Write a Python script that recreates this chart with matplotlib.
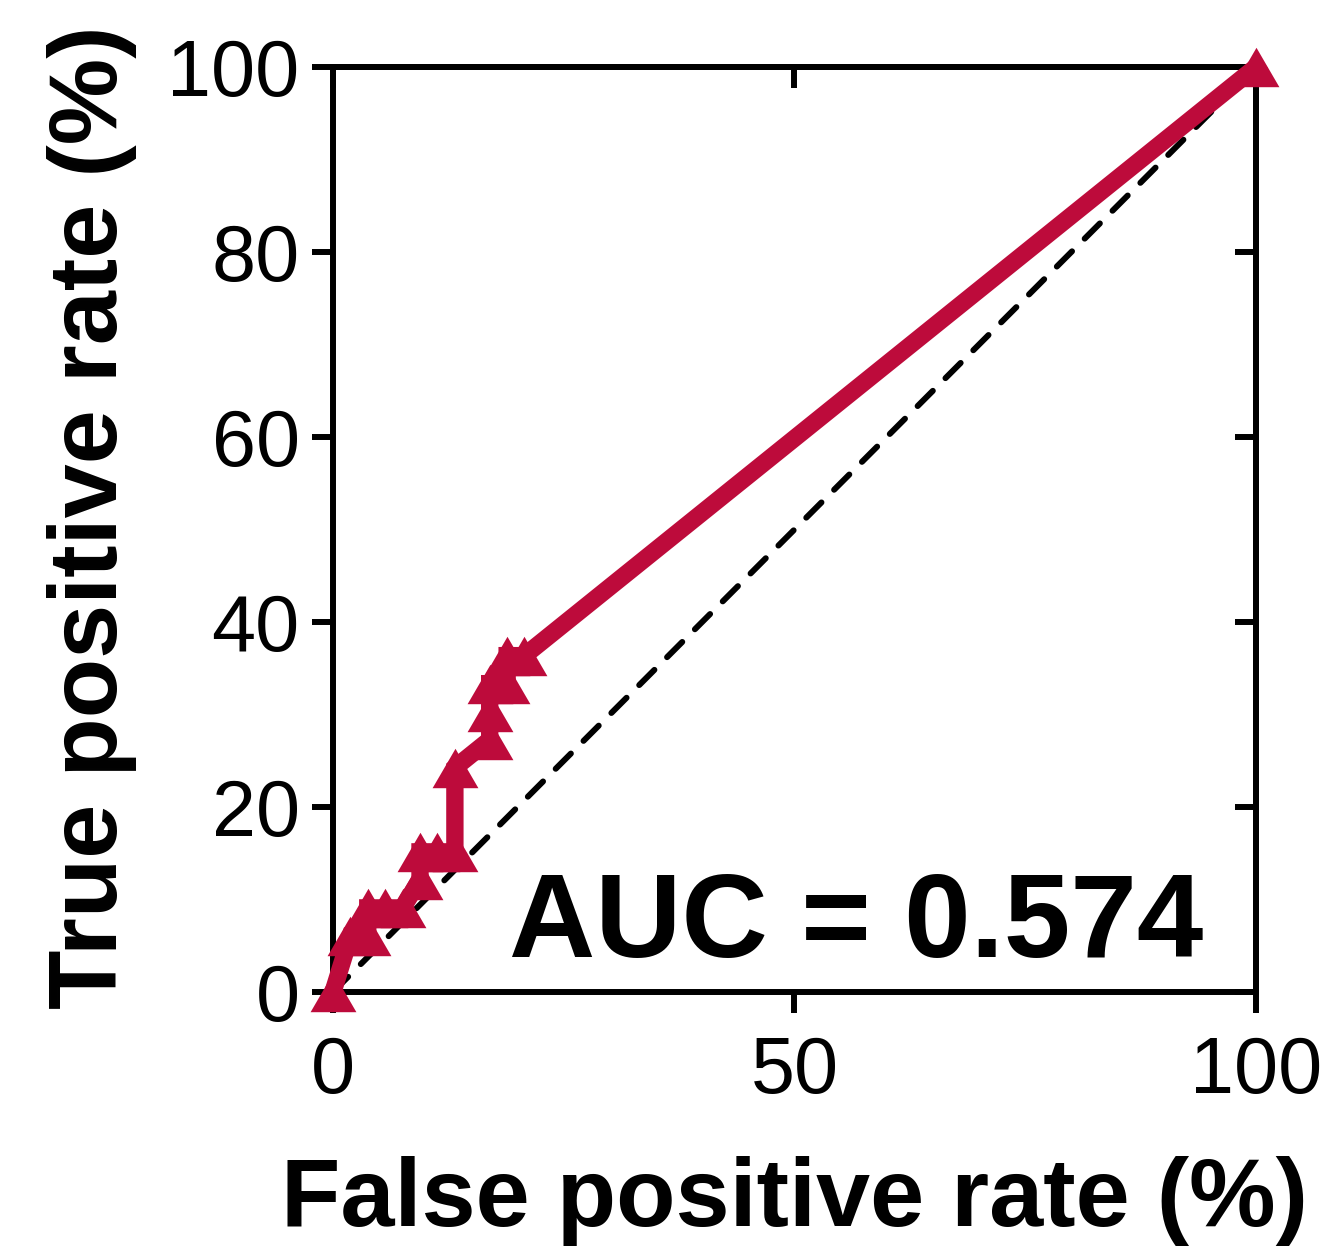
import matplotlib
matplotlib.use("Agg")
import matplotlib.pyplot as plt
from matplotlib.path import Path

plt.rcParams["font.family"] = ["Liberation Sans", "DejaVu Sans"]

# ROC operating points (percent)
fpr = [0, 1.89, 3.77, 3.77, 5.66, 7.55, 9.43, 9.43, 11.32, 13.21, 13.21,
       16.98, 16.98, 16.98, 18.87, 18.87, 20.75, 100]
tpr = [0, 6.06, 6.06, 9.09, 9.09, 9.09, 12.12, 15.15, 15.15, 15.15, 24.24,
       27.27, 30.30, 33.33, 33.33, 36.36, 36.36, 100]
auc_text = "AUC = 0.574"
ticks_x = [0, 50, 100]
ticks_y = [0, 20, 40, 60, 80, 100]

RED = "#BD0B3B"
SPINE_W = 4.3
TICK_L = 15

# flattened triangle, a bit wider than tall
tri = Path([(-0.5, -0.43), (0.5, -0.43), (0.0, 0.43), (-0.5, -0.43)],
           [Path.MOVETO, Path.LINETO, Path.LINETO, Path.CLOSEPOLY])

fig = plt.figure(figsize=(13.26, 12.47), dpi=100)
ax = fig.add_axes([0.2511, 0.2045, 0.6961, 0.7418])

ax.plot([0, 100], [0, 100], color="black", lw=4.3, ls=(0, (3.6, 3.0)),
        dash_capstyle="round", zorder=2, clip_on=False)
ax.plot(fpr, tpr, color=RED, lw=12.5, marker=tri, markersize=33,
        markeredgewidth=0, solid_joinstyle="miter", zorder=3, clip_on=False)

ax.set_xlim(0, 100)
ax.set_ylim(0, 100)
ax.set_xticks(ticks_x)
ax.set_yticks(ticks_y)
for s in ax.spines.values():
    s.set_linewidth(SPINE_W)
ax.tick_params(direction="out", length=TICK_L, width=SPINE_W, labelsize=57)
ax.tick_params(axis="x", pad=16)
ax.tick_params(axis="y", pad=9)

# mirrored ticks on top and right point inward
top = ax.secondary_xaxis("top")
top.set_xticks(ticks_x)
top.tick_params(direction="in", length=TICK_L, width=SPINE_W, labeltop=False)
top.spines["top"].set_linewidth(SPINE_W)
right = ax.secondary_yaxis("right")
right.set_yticks(ticks_y)
right.tick_params(direction="in", length=TICK_L, width=SPINE_W, labelright=False)
right.spines["right"].set_linewidth(SPINE_W)

ax.set_xlabel("False positive rate (%)", fontsize=70, fontweight="bold", labelpad=33)
ax.set_ylabel("True positive rate (%)", fontsize=70, fontweight="bold", labelpad=22)
ax.yaxis.label.set_y(0.513)

ax.text(94.3, 3.8, auc_text, fontsize=86, fontweight="bold", ha="right",
        va="baseline", zorder=4)

fig.savefig("out.png", dpi=100)
